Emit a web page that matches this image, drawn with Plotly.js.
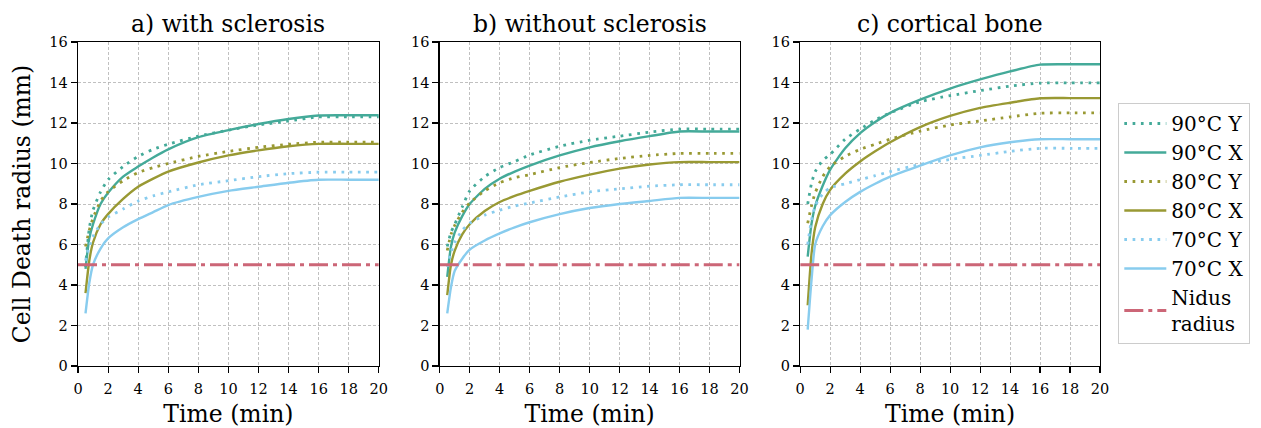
<!DOCTYPE html>
<html>
<head>
<meta charset="utf-8">
<script src="https://cdn.plot.ly/plotly-3.0.1.min.js"></script>
<style>html,body{margin:0;padding:0;background:#fff;}#chart{width:1261px;height:428px;}</style>
</head>
<body>
<div id="chart"></div>
<script>
// Time samples (min)
const time = [0.5, 0.75, 1, 1.5, 2, 3, 4, 5, 6, 8, 10, 12, 14, 16, 18, 20];

// a) with sclerosis
const a_90Y = [4.9, 6.8, 7.7, 8.6, 9.2, 9.85, 10.35, 10.7, 10.95, 11.35, 11.65, 11.9, 12.1, 12.3, 12.3, 12.3];
const a_90X = [4.8, 6.3, 7.0, 8.0, 8.55, 9.35, 9.85, 10.3, 10.7, 11.3, 11.65, 11.95, 12.2, 12.37, 12.38, 12.38];
const a_80Y = [5.9, 6.7, 7.3, 8.15, 8.6, 9.15, 9.55, 9.8, 10.0, 10.35, 10.6, 10.8, 10.95, 11.05, 11.05, 11.05];
const a_80X = [3.6, 5.2, 6.1, 7.0, 7.5, 8.25, 8.85, 9.25, 9.6, 10.05, 10.4, 10.65, 10.85, 10.97, 10.97, 10.97];
const a_70Y = [5.2, 5.9, 6.4, 7.0, 7.35, 7.75, 8.15, 8.4, 8.6, 8.95, 9.15, 9.35, 9.5, 9.57, 9.57, 9.57];
const a_70X = [2.6, 4.1, 5.0, 5.8, 6.3, 6.85, 7.25, 7.6, 7.95, 8.35, 8.65, 8.85, 9.05, 9.2, 9.2, 9.2];

// b) without sclerosis
const b_90Y = [5.9, 6.6, 7.0, 7.85, 8.65, 9.35, 9.8, 10.1, 10.42, 10.85, 11.15, 11.35, 11.55, 11.7, 11.7, 11.7];
const b_90X = [4.4, 5.9, 6.6, 7.4, 8.0, 8.75, 9.25, 9.6, 9.9, 10.4, 10.8, 11.1, 11.35, 11.58, 11.58, 11.58];
const b_80Y = [5.7, 6.5, 6.95, 7.6, 8.05, 8.65, 9.05, 9.3, 9.45, 9.8, 10.05, 10.25, 10.4, 10.5, 10.5, 10.5];
const b_80X = [3.5, 5.0, 5.7, 6.5, 7.0, 7.65, 8.1, 8.4, 8.65, 9.1, 9.45, 9.75, 9.95, 10.07, 10.07, 10.07];
const b_70Y = [4.9, 5.6, 6.1, 6.7, 7.05, 7.45, 7.7, 7.9, 8.05, 8.35, 8.6, 8.75, 8.88, 8.95, 8.95, 8.95];
const b_70X = [2.6, 3.9, 4.7, 5.3, 5.75, 6.2, 6.55, 6.85, 7.1, 7.5, 7.8, 8.0, 8.15, 8.3, 8.3, 8.3];

// c) cortical bone
const c_90Y = [8.0, 9.0, 9.6, 10.15, 10.45, 11.2, 11.7, 12.15, 12.5, 13.05, 13.35, 13.6, 13.82, 13.97, 13.98, 13.98];
const c_90X = [5.4, 7.0, 7.9, 8.9, 9.7, 10.75, 11.5, 12.05, 12.5, 13.15, 13.7, 14.15, 14.55, 14.88, 14.9, 14.9];
const c_80Y = [7.05, 7.9, 8.55, 9.35, 9.85, 10.35, 10.7, 10.95, 11.2, 11.6, 11.9, 12.1, 12.3, 12.48, 12.5, 12.5];
const c_80X = [3.0, 5.5, 6.85, 8.0, 8.7, 9.5, 10.1, 10.6, 11.05, 11.8, 12.35, 12.75, 13.0, 13.22, 13.23, 13.23];
const c_70Y = [6.0, 7.2, 7.9, 8.5, 8.8, 9.0, 9.2, 9.4, 9.6, 9.95, 10.2, 10.4, 10.6, 10.75, 10.75, 10.75];
const c_70X = [1.8, 4.2, 6.0, 6.9, 7.45, 8.1, 8.6, 9.0, 9.35, 9.9, 10.4, 10.8, 11.05, 11.2, 11.2, 11.2];

// Nidus radius
const nidusTime = [0, 20];
const nidusRadius = [5, 5];

const panelTitles = ['a) with sclerosis', 'b) without sclerosis', 'c) cortical bone'];
const seriesNames = ['90°C Y', '90°C X', '80°C Y', '80°C X', '70°C Y', '70°C X'];
const panels = [
  [a_90Y, a_90X, a_80Y, a_80X, a_70Y, a_70X],
  [b_90Y, b_90X, b_80Y, b_80X, b_70Y, b_70X],
  [c_90Y, c_90X, c_80Y, c_80X, c_70Y, c_70X]
];

const seriesColors = ['#44AA99', '#44AA99', '#999933', '#999933', '#88CCEE', '#88CCEE'];
const dotted = '2.7px,5.6px';
const FONT = 'DejaVu Serif';

const traces = [];
const axSuffix = ['', '2', '3'];
panels.forEach((series, p) => {
  series.forEach((vals, i) => {
    const isY = i % 2 === 0;
    traces.push({
      x: time, y: vals, type: 'scatter', mode: 'lines',
      name: seriesNames[i],
      xaxis: 'x' + axSuffix[p], yaxis: 'y' + axSuffix[p],
      line: {color: seriesColors[i], width: isY ? 2.8 : 2.4, dash: isY ? dotted : 'solid', shape: 'spline', smoothing: 0.6},
      showlegend: p === 2, legendrank: i + 1
    });
  });
  traces.push({
    x: nidusTime, y: nidusRadius, type: 'scatter', mode: 'lines',
    name: 'Nidus<br>radius',
    xaxis: 'x' + axSuffix[p], yaxis: 'y' + axSuffix[p],
    line: {color: '#CC6677', width: 2.8, dash: '19px,5px,4px,5px'},
    showlegend: p === 2, legendrank: 7
  });
});

const W = 1261, H = 428;
const L = 78, R = 1100.7, T = 42, B = 366;
const pw = R - L, ph = B - T;
const doms = [[78, 379], [440, 740], [800.7, 1100.7]].map(d => [(d[0] - L) / pw, (d[1] - L) / pw]);

function xax(i) {
  return {
    domain: doms[i], range: [0, 20], dtick: 2, tick0: 0,
    showline: true, mirror: true, linecolor: '#000', linewidth: 1.3,
    ticks: 'outside', ticklen: 6, tickwidth: 1.1, tickcolor: '#000',
    ticklabelstandoff: 3,
    showgrid: true, gridcolor: '#b0b0b0', gridwidth: 0.8, griddash: '3px,2px',
    zeroline: false,
    tickfont: {family: FONT, size: 14.5, color: '#000'},
    title: {text: 'Time (min)', font: {family: FONT, size: 23.5, color: '#000'}, standoff: 9},
    anchor: 'y' + axSuffix[i], fixedrange: true
  };
}
function yax(i) {
  const o = {
    domain: [0, 1], range: [0, 16], dtick: 2, tick0: 0,
    showline: true, mirror: true, linecolor: '#000', linewidth: 1.3,
    ticks: 'outside', ticklen: 6, tickwidth: 1.1, tickcolor: '#000',
    showgrid: true, gridcolor: '#b0b0b0', gridwidth: 0.8, griddash: '3px,2px',
    zeroline: false,
    tickfont: {family: FONT, size: 14.5, color: '#000'},
    anchor: 'x' + axSuffix[i], fixedrange: true
  };
  if (i === 0) o.title = {text: 'Cell Death radius (mm)', font: {family: FONT, size: 23.5, color: '#000'}, standoff: 12};
  return o;
}

const annotations = panelTitles.map((t, i) => ({
  text: t, xref: 'x' + axSuffix[i] + ' domain', yref: 'paper',
  x: 0.5, y: 1, xanchor: 'center', yanchor: 'bottom', yshift: 2,
  showarrow: false, font: {family: FONT, size: 23.5, color: '#000'}
}));

const layout = {
  width: W, height: H,
  margin: {l: L, r: W - R, t: T, b: H - B, pad: 0},
  paper_bgcolor: '#fff', plot_bgcolor: '#fff',
  font: {family: FONT, color: '#000'},
  xaxis: xax(0), yaxis: yax(0),
  xaxis2: xax(1), yaxis2: yax(1),
  xaxis3: xax(2), yaxis3: yax(2),
  annotations: annotations,
  showlegend: true,
  legend: {
    x: (1118 - L) / pw, y: 1 - (103 - T) / ph, xanchor: 'left', yanchor: 'top',
    bgcolor: '#fff', bordercolor: '#cccccc', borderwidth: 1,
    font: {family: FONT, size: 20, color: '#000'},
    itemwidth: 42, traceorder: 'normal'
  },
  hovermode: false
};

Plotly.newPlot('chart', traces, layout, {staticPlot: true, displayModeBar: false});
</script>
</body>
</html>
